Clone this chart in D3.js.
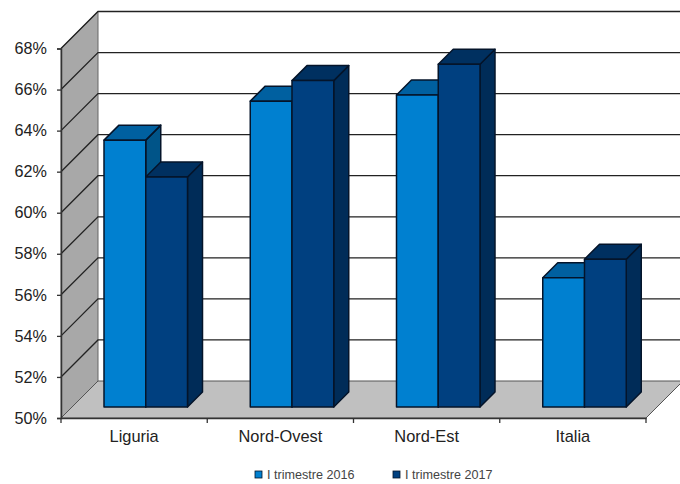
<!DOCTYPE html>
<html>
<head>
<meta charset="utf-8">
<script src="https://cdn.jsdelivr.net/npm/d3@7"></script>
<style>
  html, body { margin: 0; padding: 0; background: #fff; }
  svg { display: block; }
  text { font-family: "Liberation Sans", Arial, sans-serif; fill: #222; }
</style>
</head>
<body>
<div id="chart"></div>
<script>
const categories = ["Liguria", "Nord-Ovest", "Nord-Est", "Italia"];
const seriesNames = ["I trimestre 2016", "I trimestre 2017"];
const values2016 = [63.0, 64.9, 65.2, 56.3];
const values2017 = [61.2, 65.9, 66.7, 57.2];
const yTicks = [50, 52, 54, 56, 58, 60, 62, 64, 66, 68];

const width = 680;
const height = 484;
const plotLeft = 61, plotRight = 646, plotBottom = 418, plotTop = 48.5;
const wallDepth = 37;   // depth of the 3d box
const barDepth = 15;    // depth of a bar
const barInset = 11;    // bars stand a little behind the front edge

const frontColors = ["#0080d0", "#004080"];
const topColors = ["#0060a0", "#003060"];
const sideColors = ["#005488", "#002c58"];

const svg = d3.select("#chart")
    .append("svg")
    .attr("width", width)
    .attr("height", height);

const y = d3.scaleLinear().domain([50, 68]).range([plotBottom, plotTop]);
const x0 = d3.scaleBand().domain(categories).range([plotLeft, plotRight]);
const x1 = d3.scaleBand().domain(seriesNames).range([43, 126.5]);

const poly = pts => pts.map(p => p.join(",")).join(" ");

// left wall and floor
svg.append("polygon")
    .attr("points", poly([[plotLeft, y(50)], [plotLeft + wallDepth, y(50) - wallDepth],
        [plotLeft + wallDepth, y(68) - wallDepth], [plotLeft, y(68)]]))
    .style("fill", "#a8a8a8")
    .style("stroke", "#666")
    .style("stroke-width", 1);

svg.append("polygon")
    .attr("points", poly([[plotLeft, y(50)], [plotRight, y(50)],
        [plotRight + wallDepth, y(50) - wallDepth], [plotLeft + wallDepth, y(50) - wallDepth]]))
    .style("fill", "#c0c0c0")
    .style("stroke", "#555")
    .style("stroke-width", 1);

// gridlines, slanted on the wall then along the back
svg.append("g")
    .selectAll("polyline")
    .data(yTicks.slice(1))
    .join("polyline")
    .attr("points", d => poly([[plotLeft, y(d)], [plotLeft + wallDepth, y(d) - wallDepth], [width, y(d) - wallDepth]]))
    .style("fill", "none")
    .style("stroke", "#222")
    .style("stroke-width", 1.3);

// axes
const yAxis = d3.axisLeft(y)
    .tickValues(yTicks)
    .tickFormat(d => d + "%")
    .tickSize(4)
    .tickPadding(10);

const yG = svg.append("g")
    .attr("transform", "translate(" + plotLeft + ",0)")
    .call(yAxis);
yG.selectAll("text").style("font-size", "16.2px");
yG.selectAll("line").style("stroke", "#333").style("stroke-width", 1.3);
yG.select(".domain").style("stroke", "#333").style("stroke-width", 1.5);

const xAxis = d3.axisBottom(x0)
    .tickSize(0)
    .tickPadding(12);

const xG = svg.append("g")
    .attr("transform", "translate(0," + plotBottom + ")")
    .call(xAxis);
xG.selectAll("text").style("font-size", "16.4px");
xG.select(".domain").style("stroke", "#333").style("stroke-width", 1.5);

svg.append("g")
    .selectAll("line")
    .data(categories.map(c => x0(c)).concat([plotRight]))
    .join("line")
    .attr("x1", d => d)
    .attr("x2", d => d)
    .attr("y1", plotBottom)
    .attr("y2", plotBottom + 5)
    .style("stroke", "#333")
    .style("stroke-width", 1.3);

// bars, drawn left to right so the neighbours overlap as in 3d
const barRows = [];
categories.forEach((c, i) => {
    barRows.push({ cat: c, s: 0, v: values2016[i] });
    barRows.push({ cat: c, s: 1, v: values2017[i] });
});

const bars = svg.append("g")
    .selectAll("g")
    .data(barRows)
    .join("g")
    .style("stroke", "#04142a")
    .style("stroke-width", 1.5)
    .style("stroke-linejoin", "round");

const bx = d => x0(d.cat) + x1(seriesNames[d.s]);
const bw = x1.bandwidth();
const by = d => y(d.v) - barInset;
const by0 = y(50) - barInset;

bars.append("polygon")  // side
    .attr("points", d => poly([[bx(d) + bw, by(d)], [bx(d) + bw + barDepth, by(d) - barDepth],
        [bx(d) + bw + barDepth, by0 - barDepth], [bx(d) + bw, by0]]))
    .style("fill", d => sideColors[d.s]);

bars.append("polygon")  // top
    .attr("points", d => poly([[bx(d), by(d)], [bx(d) + barDepth, by(d) - barDepth],
        [bx(d) + bw + barDepth, by(d) - barDepth], [bx(d) + bw, by(d)]]))
    .style("fill", d => topColors[d.s]);

bars.append("rect")     // front
    .attr("x", bx)
    .attr("y", by)
    .attr("width", bw)
    .attr("height", d => by0 - by(d))
    .style("fill", d => frontColors[d.s]);

// legend
const legendX = d3.scaleOrdinal().domain(seriesNames).range([255, 393]);

const legend = svg.append("g")
    .selectAll("g")
    .data(seriesNames)
    .join("g")
    .attr("transform", d => "translate(" + legendX(d) + ",475)");

legend.append("rect")
    .attr("x", 0)
    .attr("y", -4)
    .attr("width", 7)
    .attr("height", 7)
    .style("fill", (d, i) => frontColors[i])
    .style("stroke", "#04142a")
    .style("stroke-width", 0.8);

legend.append("text")
    .attr("x", 12)
    .attr("y", 4)
    .style("font-size", "12.6px")
    .style("fill", "#444")
    .text(d => d);
</script>
</body>
</html>
